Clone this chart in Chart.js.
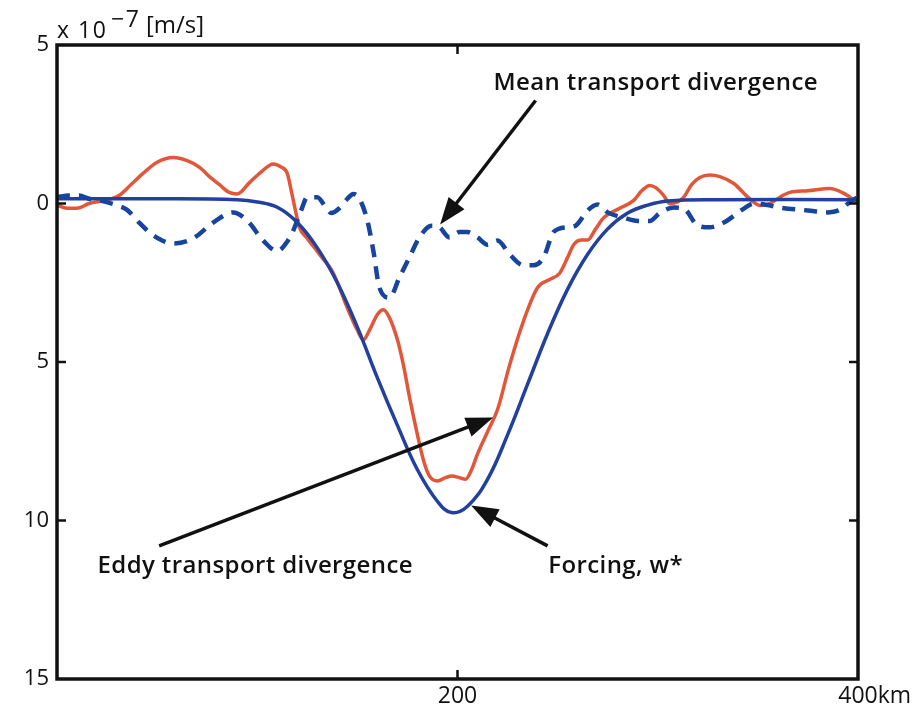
<!DOCTYPE html>
<html>
<head>
<meta charset="utf-8">
<script src="https://cdn.jsdelivr.net/npm/chart.js@4"></script>
<style>
  body { margin: 0; background: #fff; }
  canvas { display: block; }
</style>
</head>
<body>
<canvas id="chart" width="916" height="707"></canvas>
<script>
// distance across the section (km), values in 1e-7 m/s (plotted downward)
const forcingKm  = [0, 50, 90, 100, 110, 120, 130, 140, 150, 160, 170, 180, 190, 197, 205, 215, 225, 235, 245, 255, 265, 275, 285, 295, 305, 330, 400];
const forcingVal = [-0.15, -0.15, -0.12, -0.05, 0.12, 0.6, 1.4, 2.5, 3.9, 5.5, 7.0, 8.4, 9.4, 9.75, 9.55, 8.7, 7.3, 5.7, 4.1, 2.7, 1.6, 0.8, 0.3, 0.05, -0.08, -0.12, -0.12];

const eddyKm  = [0, 5, 10, 16, 24, 31, 37, 43, 50, 58, 65, 71, 77, 81, 86, 90, 96, 102, 108, 112, 115, 117, 119, 121, 125, 131, 138, 145, 150, 153, 156, 160, 163, 166, 170, 173, 176, 180, 183, 186, 190, 194, 197, 201, 204, 207, 210, 215, 220, 226, 233, 240, 246, 251, 255, 258, 262, 265, 269, 273, 281, 288, 292, 296, 299, 303, 306, 310, 313, 317, 321, 326, 331, 338, 345, 351, 356, 361, 366, 375, 386, 392, 396, 400];
const eddyVal = [0.05, 0.15, 0.15, 0.0, -0.1, -0.25, -0.6, -0.95, -1.3, -1.45, -1.35, -1.15, -0.8, -0.6, -0.35, -0.3, -0.65, -1.0, -1.25, -1.15, -0.95, -0.4, 0.2, 0.75, 1.1, 1.6, 2.2, 3.3, 4.0, 4.3, 4.0, 3.5, 3.35, 3.6, 4.3, 5.1, 6.1, 7.3, 8.1, 8.6, 8.75, 8.65, 8.6, 8.65, 8.7, 8.4, 7.9, 7.2, 6.5, 5.1, 3.7, 2.65, 2.4, 2.2, 1.7, 1.3, 1.15, 1.15, 0.8, 0.45, 0.15, -0.1, -0.4, -0.57, -0.5, -0.25, 0.0, -0.05, -0.2, -0.6, -0.82, -0.9, -0.85, -0.63, -0.2, 0.06, 0.0, -0.2, -0.35, -0.4, -0.47, -0.35, -0.2, 0.0];

const meanKm  = [0, 6, 11, 16, 21, 30, 35, 41, 48, 58, 68, 78, 88, 95, 103, 110, 115, 118, 122, 125, 130, 134, 137, 141, 145, 148, 151, 155, 158, 161, 166, 171, 176, 181, 187, 191, 196, 201, 205, 210, 215, 220, 226, 233, 238, 243, 248, 255, 259, 265, 270, 275, 283, 290, 296, 301, 308, 313, 320, 326, 333, 343, 348, 355, 361, 375, 385, 391, 397, 400];
const meanVal = [-0.2, -0.25, -0.25, -0.15, -0.1, 0.06, 0.2, 0.6, 1.0, 1.26, 1.1, 0.6, 0.28, 0.54, 1.17, 1.5, 1.2, 0.85, 0.2, -0.2, -0.2, 0.1, 0.3, 0.15, -0.15, -0.3, -0.15, 0.54, 1.5, 2.65, 2.97, 2.33, 1.7, 1.07, 0.7, 0.75, 1.07, 0.9, 0.9, 1.07, 1.3, 1.17, 1.6, 1.95, 1.95, 1.7, 0.9, 0.75, 0.7, 0.22, 0.03, 0.28, 0.45, 0.55, 0.55, 0.3, 0.13, 0.16, 0.7, 0.75, 0.6, 0.16, 0.0, 0.05, 0.13, 0.22, 0.28, 0.2, -0.1, -0.2];

const xTicks = [200, 400];
const yTicks = [-5, 0, 5, 10, 15];

// labels and arrows, in data units: [x, y]
const notes = [
  { text: 'Mean transport divergence', at: [299, -3.8], from: [239, -3.25], to: [191.3, 0.66] },
  { text: 'Eddy transport divergence', at: [99, 11.45], from: [51, 10.8], to: [217.8, 6.75] },
  { text: 'Forcing, w*', at: [279, 11.45], from: [245, 10.8], to: [206.8, 9.53] }
];

const pts = (xs, ys) => xs.map((x, i) => ({ x: x, y: ys[i] }));

const FONT = '"Open Sans", "DejaVu Sans", sans-serif';

function arrow(ctx, x1, y1, x2, y2) {
  const a = Math.atan2(y2 - y1, x2 - x1);
  const len = 27, half = 10;
  const bx = x2 - len * Math.cos(a), by = y2 - len * Math.sin(a);
  ctx.beginPath();
  ctx.moveTo(x1, y1);
  ctx.lineTo(bx + 4 * Math.cos(a), by + 4 * Math.sin(a));
  ctx.stroke();
  ctx.beginPath();
  ctx.moveTo(x2, y2);
  ctx.lineTo(bx + half * Math.sin(a), by - half * Math.cos(a));
  ctx.lineTo(bx - half * Math.sin(a), by + half * Math.cos(a));
  ctx.closePath();
  ctx.fill();
}

const frame = {
  id: 'frame',
  afterDraw(chart) {
    const ctx = chart.ctx;
    const a = chart.chartArea;
    const xs = chart.scales.x, ys = chart.scales.y;
    ctx.save();
    ctx.strokeStyle = '#111';
    ctx.fillStyle = '#111';
    ctx.lineWidth = 3.5;
    ctx.strokeRect(a.left, a.top, a.right - a.left, a.bottom - a.top);

    // inward ticks
    ctx.lineWidth = 2.5;
    ctx.beginPath();
    xTicks.forEach(v => {
      const px = xs.getPixelForValue(v);
      if (v < 400) {
        ctx.moveTo(px, a.bottom); ctx.lineTo(px, a.bottom - 9);
        ctx.moveTo(px, a.top); ctx.lineTo(px, a.top + 9);
      }
    });
    yTicks.forEach(v => {
      const py = ys.getPixelForValue(v);
      if (v > -5 && v < 15) {
        ctx.moveTo(a.left, py); ctx.lineTo(a.left + 9, py);
        ctx.moveTo(a.right, py); ctx.lineTo(a.right - 9, py);
      }
    });
    ctx.stroke();

    // unit after last x label
    ctx.font = '23px ' + FONT;
    ctx.textAlign = 'left';
    ctx.textBaseline = 'middle';
    const w400 = ctx.measureText('400').width;
    ctx.fillText('km', xs.getPixelForValue(400) + w400 / 2, 696);

    // exponent label
    ctx.textBaseline = 'alphabetic';
    ctx.font = '23px ' + FONT;
    ctx.letterSpacing = '1.5px';
    ctx.fillText('x 10', a.left, 38);
    ctx.fillText('\u22127', 111, 27);
    ctx.letterSpacing = '0px';
    ctx.font = '24px ' + FONT;
    ctx.fillText('[m/s]', 146, 33);

    // annotations
    ctx.lineWidth = 3.5;
    notes.forEach(n => {
      arrow(ctx, xs.getPixelForValue(n.from[0]), ys.getPixelForValue(n.from[1]),
        xs.getPixelForValue(n.to[0]), ys.getPixelForValue(n.to[1]));
      ctx.font = '600 24px ' + FONT;
      ctx.letterSpacing = '0.4px';
      ctx.textAlign = 'center';
      ctx.textBaseline = 'middle';
      ctx.fillText(n.text, xs.getPixelForValue(n.at[0]), ys.getPixelForValue(n.at[1]));
      ctx.letterSpacing = '0px';
    });
    ctx.restore();
  }
};

new Chart(document.getElementById('chart'), {
  type: 'line',
  data: {
    datasets: [
      {
        label: 'Mean transport divergence',
        data: pts(meanKm, meanVal),
        borderColor: '#17449c',
        borderWidth: 4.5,
        borderDash: [13, 9],
        cubicInterpolationMode: 'monotone',
        order: 0
      },
      {
        label: 'Forcing, w*',
        data: pts(forcingKm, forcingVal),
        borderColor: '#22409e',
        borderWidth: 3.5,
        tension: 0.4,
        order: 1
      },
      {
        label: 'Eddy transport divergence',
        data: pts(eddyKm, eddyVal),
        borderColor: '#e0573a',
        borderWidth: 3.5,
        cubicInterpolationMode: 'monotone',
        order: 2
      }
    ]
  },
  options: {
    responsive: false,
    animation: false,
    layout: { padding: { left: 0, right: 58, top: 45, bottom: 0 } },
    elements: {
      point: { radius: 0 },
      line: { fill: false }
    },
    plugins: {
      legend: { display: false },
      tooltip: { enabled: false }
    },
    scales: {
      x: {
        type: 'linear',
        min: 0,
        max: 400,
        grid: { display: false, drawTicks: false },
        border: { display: false },
        afterBuildTicks: s => { s.ticks = xTicks.map(v => ({ value: v })); },
        afterFit: s => { s.height = 28; },
        ticks: {
          padding: 4,
          color: '#111',
          font: { family: FONT, size: 23 },
          maxRotation: 0,
          callback: v => String(v)
        }
      },
      y: {
        type: 'linear',
        reverse: true,
        min: -5,
        max: 15,
        grid: { display: false, drawTicks: false },
        border: { display: false },
        afterBuildTicks: s => { s.ticks = yTicks.map(v => ({ value: v })); },
        afterFit: s => { s.width = 57; },
        ticks: {
          padding: 8,
          color: '#111',
          font: { family: FONT, size: 22 },
          callback: v => String(Math.abs(v))
        }
      }
    }
  },
  plugins: [frame]
});
</script>
</body>
</html>
